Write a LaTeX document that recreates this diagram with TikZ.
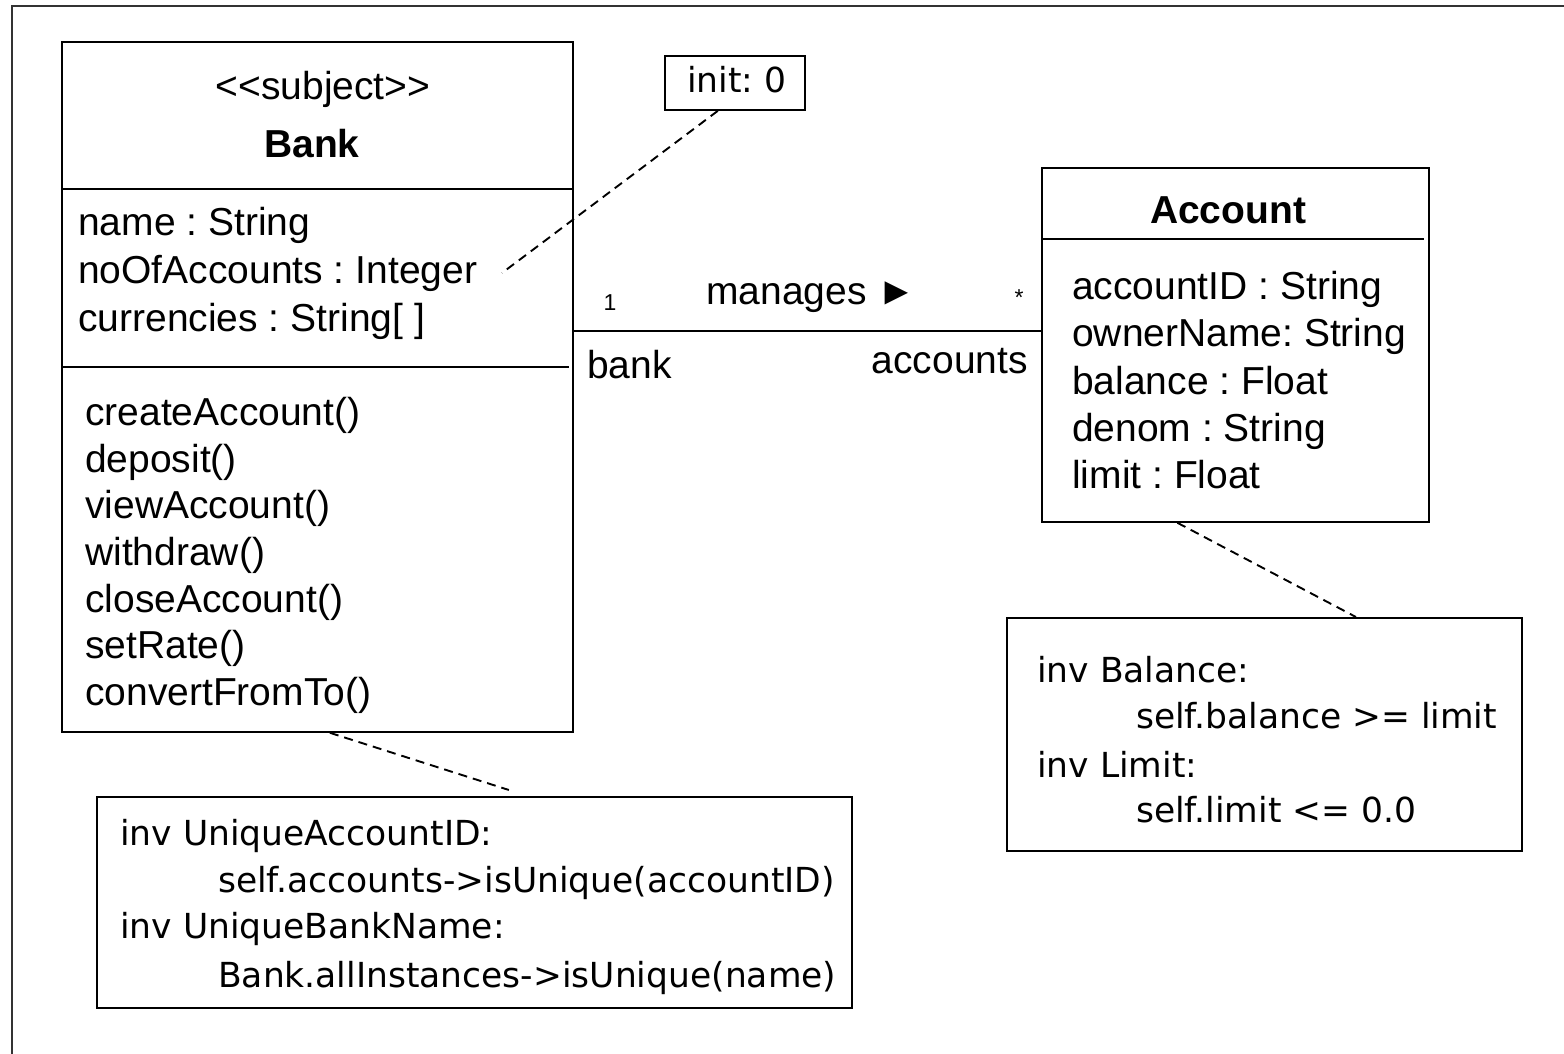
\documentclass[tikz,border=0pt]{standalone}
\usepackage{fontspec}
\setmainfont{Liberation Sans}
\newfontfamily\notefont{DejaVu Sans}
\frenchspacing
\begin{document}
\frenchspacing
\begin{tikzpicture}[x=1pt,y=-1pt,
  box/.style={draw, line width=1.8pt, inner sep=0pt, anchor=north west},
  conn/.style={line width=1.8pt},
  notelink/.style={line width=1.9pt, dash pattern=on 9pt off 6pt},
  txt/.style={anchor=base west, inner sep=0pt, font=\fontsize{39}{47}\selectfont},
  ctxt/.style={anchor=base, inner sep=0pt, font=\fontsize{39}{47}\selectfont},
  btxt/.style={anchor=base, inner sep=0pt, font=\fontsize{39}{47}\selectfont\bfseries},
  small/.style={anchor=base, inner sep=0pt, font=\fontsize{23}{28}\selectfont},
  ntxt/.style={anchor=base west, inner sep=0pt, font=\notefont\fontsize{34.5}{42}\selectfont}
]
\useasboundingbox (0,0) rectangle (1564,1054);
% outer frame (cut at right and bottom)
\draw[line width=2pt, black!80] (12,1054) -- (12,6) -- (1564,6);

% Bank class
\node[box, minimum width=511pt, minimum height=690pt] (bank) at (61,41) {};
\draw[conn] (61,189) -- (572,189);
\draw[conn] (61,367) -- (569,367);
\node[ctxt] (bstereo) at (323,100) {<\kern0pt<subject>\kern0pt>};
\node[btxt] (bname) at (312,158) {Bank};
\node[txt] (a1) at (78,235) {name : String};
\node[txt] (a2) at (78,283) {noOfAccounts : Integer};
\node[txt] (a3) at (78,331) {currencies : String[ ]};
\node[txt] (o1) at (85,425) {createAccount()};
\node[txt] (o2) at (85,472) {deposit()};
\node[txt] (o3) at (85,518) {viewAccount()};
\node[txt] (o4) at (85,565) {withdraw()};
\node[txt] (o5) at (85,612) {closeAccount()};
\node[txt] (o6) at (85,658) {setRate()};
\node[txt] (o7) at (85,705) {convertFromTo()};

% Account class
\node[box, minimum width=387pt, minimum height=354pt] (account) at (1041,167) {};
\draw[conn] (1041,239) -- (1424,239);
\node[btxt] (aname) at (1228,223) {Account};
\node[txt] (c1) at (1072,299) {accountID : String};
\node[txt] (c2) at (1072,346) {ownerName: String};
\node[txt] (c3) at (1072,394) {balance : Float};
\node[txt] (c4) at (1072,441) {denom : String};
\node[txt] (c5) at (1072,488) {limit : Float};

% association
\draw[conn] ([yshift=56pt]bank.east) -- ([yshift=14pt]account.west);
\node[small] (m1) at (610,310) {1};
\node[txt] (mlabel) at (706,304) {manages ►};
\node[small] (m2) at (1019,305) {*};
\node[txt] (rbank) at (587,378) {bank};
\node[txt, anchor=base east] (racc) at (1028,373) {accounts};

% init note
\node[box, minimum width=140pt, minimum height=54pt] (init) at (664,55) {};
\node[ntxt] (inittxt) at (687,93) {init: 0};
\coordinate (initend) at (502,273);
\draw[notelink] ([xshift=-17pt]init.south) -- (initend);

% Account note
\node[box, minimum width=515pt, minimum height=233pt] (accnote) at (1006,617) {};
\node[ntxt] (n1) at (1037,682) {inv Balance:};
\node[ntxt] (n2) at (1136,728) {self.balance >= limit};
\node[ntxt] (n3) at (1037,777) {inv Limit:};
\node[ntxt] (n4) at (1136,822) {self.limit <= 0.0};
\draw[notelink] ([xshift=-58pt]account.south) -- ([xshift=91.5pt]accnote.north);

% Bank note
\node[box, minimum width=755pt, minimum height=211pt] (banknote) at (96,796) {};
\node[ntxt] (k1) at (120,845) {inv UniqueAccountID:};
\node[ntxt] (k2) at (218,892) {self.accounts->isUnique(accountID)};
\node[ntxt] (k3) at (120,938) {inv UniqueBankName:};
\node[ntxt] (k4) at (218,987) {Bank.allInstances->isUnique(name)};
\draw[notelink] ([xshift=12.5pt]bank.south) -- ([xshift=34.5pt,yshift=6pt]banknote.north);
\end{tikzpicture}
\end{document}
